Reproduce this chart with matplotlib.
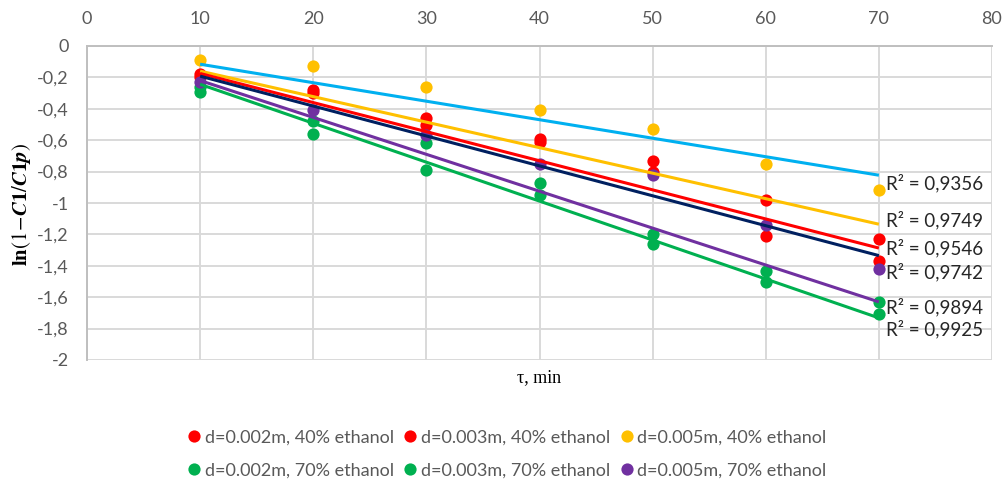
import matplotlib
matplotlib.use("Agg")
import matplotlib.pyplot as plt
import numpy as np

# ---- data ----
tau = [10, 20, 30, 40, 50, 60, 70]
series_names = [
    "d=0.002m, 40% ethanol",
    "d=0.003m, 40% ethanol",
    "d=0.005m, 40% ethanol",
    "d=0.002m, 70% ethanol",
    "d=0.003m, 70% ethanol",
    "d=0.005m, 70% ethanol",
]
d002_40 = [-0.18, -0.28, -0.46, -0.59, -0.73, -0.98, -1.23]
d003_40 = [-0.20, -0.30, -0.50, -0.61, -0.80, -1.21, -1.37]
d005_40 = [-0.09, -0.13, -0.26, -0.41, -0.53, -0.75, -0.92]
d002_70 = [-0.26, -0.48, -0.62, -0.87, -1.20, -1.43, -1.63]
d003_70 = [-0.29, -0.56, -0.79, -0.95, -1.26, -1.50, -1.71]
d005_70 = [-0.23, -0.41, -0.57, -0.75, -0.82, -1.14, -1.42]
series_values = [d002_40, d003_40, d005_40, d002_70, d003_70, d005_70]

# trendlines: value at tau=10 and tau=70
trend_x = [10, 70]
trend_start = [-0.116, -0.160, -0.175, -0.192, -0.220, -0.244]
trend_end = [-0.823, -1.135, -1.287, -1.335, -1.630, -1.732]
trend_r2 = ["0,9356", "0,9749", "0,9546", "0,9742", "0,9894", "0,9925"]

xticks = [0, 10, 20, 30, 40, 50, 60, 70, 80]
yticks = [0, -0.2, -0.4, -0.6, -0.8, -1, -1.2, -1.4, -1.6, -1.8, -2]
ytick_labels = ["0", "-0,2", "-0,4", "-0,6", "-0,8", "-1", "-1,2", "-1,4", "-1,6", "-1,8", "-2"]

# ---- styles ----
marker_colors = ["#FF0000", "#FF0000", "#FFC000", "#00B050", "#00B050", "#7030A0"]
trend_colors = ["#00B0F0", "#FFC000", "#FF0000", "#002060", "#7030A0", "#00B050"]
label_y = [-0.875, -1.108, -1.289, -1.44, -1.662, -1.80]

plt.rcParams['font.family'] = ['Lato', 'DejaVu Sans']
plt.rcParams['mathtext.fontset'] = 'stix'

fig = plt.figure(figsize=(10.03, 4.82), dpi=100)
ax = fig.add_axes([87/1003, 1-360/482, (992-87)/1003, (360-46)/482])

handles = []
for vals, col, name in zip(series_values, marker_colors, series_names):
    h, = ax.plot(tau, vals, linestyle='none', marker='o', markersize=8.8,
                 color=col, markeredgewidth=0, label=name, zorder=3)
    handles.append(h)

for s, e, col in zip(trend_start, trend_end, trend_colors):
    ax.plot(trend_x, [s, e], color=col, linewidth=2.2, zorder=4,
            solid_capstyle='butt')

for ly, r2 in zip(label_y, trend_r2):
    ax.text(70.6, ly, "R² = " + r2, fontsize=13.5, color='#262626',
            va='center', ha='left', zorder=5)

ax.set_xlim(0, 80)
ax.set_ylim(-2, 0)
ax.set_xticks(xticks)
ax.set_yticks(yticks)
ax.set_yticklabels(ytick_labels)
ax.xaxis.tick_top()
ax.tick_params(axis='both', length=0, labelsize=13, labelcolor='#595959')
ax.tick_params(axis='x', pad=14)
ax.tick_params(axis='y', pad=13)
ax.grid(True, color='#D9D9D9', linewidth=1.4, zorder=0)
ax.set_axisbelow(True)
for side in ['right', 'bottom']:
    ax.spines[side].set_visible(False)
for side in ['left', 'top']:
    ax.spines[side].set_color('#BFBFBF')
    ax.spines[side].set_linewidth(1.4)

fig.text(539/1003, 1-378/482, "τ, min", fontsize=13, family='Liberation Serif',
         ha='center', va='center', color='#000000')
fig.text(22/1003, 1-205/482, r'$\mathbf{ln}(1\!-\!\boldsymbol{C1}/\boldsymbol{C1p})$',
         fontsize=15, rotation=90, ha='center', va='center')

# legend filled row by row (3 columns, 2 rows)
order = [0, 3, 1, 4, 2, 5]
leg = fig.legend([handles[i] for i in order], [series_names[i] for i in order],
                 loc='center', bbox_to_anchor=(505/1003, 1-454/482), ncol=3,
                 frameon=False, fontsize=13, handletextpad=0.0,
                 columnspacing=0.3, labelspacing=0.95, handlelength=1.2,
                 labelcolor='#595959')

fig.savefig("out.png", dpi=100)
